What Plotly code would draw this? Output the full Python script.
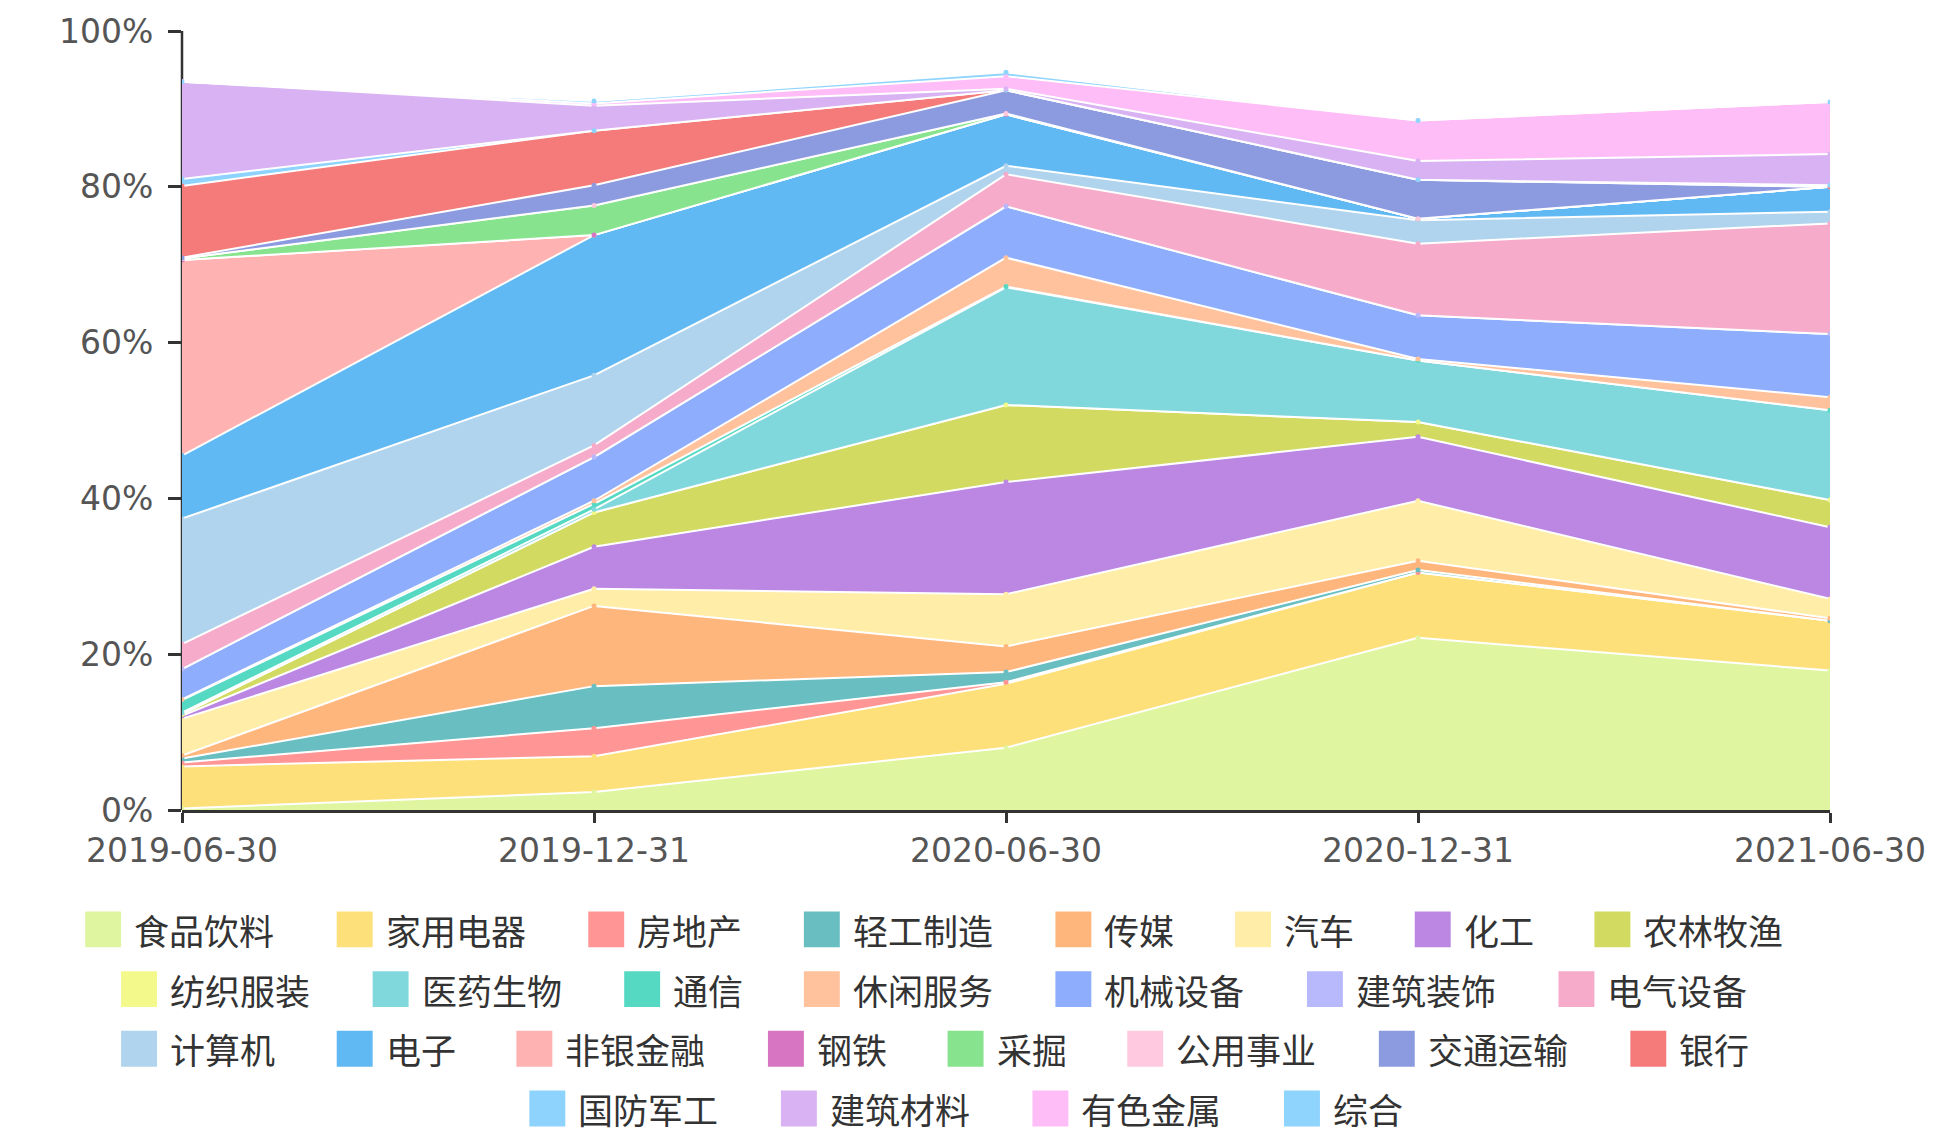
# 업종별 비중 누적 영역 차트

import plotly.graph_objects as go

dates = ['2019-06-30', '2019-12-31', '2020-06-30', '2020-12-31', '2021-06-30']

industries = ['食品饮料', '家用电器', '房地产', '轻工制造', '传媒', '汽车', '化工', '农林牧渔',
              '纺织服装', '医药生物', '通信', '休闲服务', '机械设备', '建筑装饰', '电气设备',
              '计算机', '电子', '非银金融', '钢铁', '采掘', '公用事业', '交通运输', '银行',
              '国防军工', '建筑材料', '有色金属', '综合']

colors = ['#e0f5a0', '#fee07a', '#ff9595', '#68bec1', '#ffb67c', '#ffeda8', '#bb87e3', '#d3da62',
          '#f3f98a', '#80d8dc', '#55d9c3', '#ffc29c', '#8fadfd', '#b8b8fd', '#f6abcb',
          '#b0d4ee', '#61b9f3', '#ffb2b2', '#d775c3', '#88e38e', '#ffc9df', '#8c9ae0', '#f47b79',
          '#8ed3fd', '#d8b2f2', '#ffbdf7', '#8fd4fd']

# 기준일별 업종 비중(%)
w_2019_06 = [0.2, 5.4, 0.5, 0.5, 0.4, 4.7, 0.4, 0.2, 0, 0.2, 1.6, 0.1, 3.9, 0, 3.2,
             16.1, 8.1, 25.1, 0, 0.2, 0, 0.1, 9.2, 0.9, 12.5, 0, 0]
w_2019_12 = [2.3, 4.6, 3.6, 5.4, 10.3, 2.2, 5.4, 4.4, 0, 0.4, 0.7, 0.4, 5.6, 0, 1.5,
             9.0, 18.0, 0, 0, 3.8, 0, 2.6, 7.0, 0, 3.2, 0.3, 0.3]
w_2020_06 = [8.0, 8.2, 0.2, 1.3, 3.3, 6.7, 14.4, 9.9, 0, 15.1, 0.1, 3.7, 6.6, 0, 4.1,
             1.1, 6.6, 0, 0, 0.1, 0, 3.0, 0, 0, 0.2, 1.6, 0.5]
w_2020_12 = [22.1, 8.4, 0, 0.3, 1.2, 7.7, 8.2, 1.9, 0, 7.9, 0, 0.2, 5.6, 0, 9.2,
             3.0, 0.2, 0, 0, 0, 0, 5.0, 0, 0, 2.4, 5.2, 0]
w_2021_06 = [17.9, 6.4, 0, 0, 0.3, 2.5, 9.2, 3.5, 0, 11.5, 0, 1.7, 8.1, 0, 14.2,
             1.5, 3.2, 0, 0, 0, 0, 0, 0, 0.2, 4.0, 6.7, 0]

weights_by_date = [w_2019_06, w_2019_12, w_2020_06, w_2020_12, w_2021_06]

y_ticks = [0, 20, 40, 60, 80, 100]
y_tick_labels = ['0%', '20%', '40%', '60%', '80%', '100%']

# 범례 줄 구성
legend_rows = [industries[0:8], industries[8:15], industries[15:23], industries[23:27]]
legend_row_center = [938, 938, 938, 969]
legend_row_y = [930, 990, 1050, 1110]

W, H = 1938, 1140
L, R, T, B = 182, 105, 27, 330
plot_w = W - L - R
plot_h = H - T - B


def px_to_paper(px, py):
    return (px - L) / plot_w, (T + plot_h - py) / plot_h


fig = go.Figure()
for i, name in enumerate(industries):
    fig.add_trace(go.Scatter(
        x=dates,
        y=[w[i] for w in weights_by_date],
        name=name,
        mode='lines+markers',
        stackgroup='one',
        fillcolor=colors[i],
        line=dict(color='white', width=2),
        marker=dict(color=colors[i], size=5),
        showlegend=False,
        hovertemplate=f'<b>{name}</b><br>%{{x}}: %{{y:.1f}}%<extra></extra>'
        ))

# 범례 (ECharts 스타일의 가운데 정렬 줄)
shapes = []
annotations = []
box, fs, text_gap, item_gap = 36, 35, 50, 58
for row, cx, cy in zip(legend_rows, legend_row_center, legend_row_y):
    widths = [text_gap + len(n) * 36 for n in row]
    total = sum(widths) + item_gap * (len(row) - 1)
    x = cx - total / 2
    for n, wdt in zip(row, widths):
        c = colors[industries.index(n)]
        x0, y0 = px_to_paper(x, cy + box / 2)
        x1, y1 = px_to_paper(x + box, cy - box / 2)
        shapes.append(dict(type='rect', xref='paper', yref='paper',
                           x0=x0, x1=x1, y0=y0, y1=y1,
                           fillcolor=c, line=dict(width=0)))
        tx, ty = px_to_paper(x + text_gap - 3, cy)
        annotations.append(dict(xref='paper', yref='paper', x=tx, y=ty,
                                xanchor='left', yanchor='middle', text=n,
                                showarrow=False,
                                font=dict(size=fs, color='#333333',
                                          family='Noto Sans CJK SC')))
        x += wdt + item_gap

# y축 선은 영역 아래에 깔리도록 도형으로 그림
shapes.append(dict(type='line', xref='paper', yref='paper', x0=0, x1=0, y0=0, y1=1,
                   layer='below', line=dict(color='#333333', width=2.5)))

fig.update_layout(
    width=W,
    height=H,
    margin=dict(l=L, r=R, t=T, b=B),
    plot_bgcolor='white',
    paper_bgcolor='white',
    font=dict(family='DejaVu Sans, Noto Sans CJK SC', size=33, color='#555555'),
    xaxis=dict(
        type='category',
        range=[0, len(dates) - 1],
        showline=True,
        linecolor='#333333',
        linewidth=2.5,
        ticks='outside',
        ticklen=10,
        tickwidth=2.5,
        tickcolor='#333333',
        showgrid=False,
        zeroline=False
        ),
    yaxis=dict(
        range=[0, 100],
        tickmode='array',
        tickvals=y_ticks,
        ticktext=y_tick_labels,
        showline=False,
        ticks='outside',
        ticklen=13,
        tickwidth=2.5,
        tickcolor='#333333',
        showgrid=True,
        gridcolor='#d9d9d9',
        gridwidth=2,
        zeroline=False,
        ticklabelstandoff=8
        ),
    shapes=shapes,
    annotations=annotations,
    showlegend=False
    )

fig.write_html("out.html",
               config={'displayModeBar': False},
               post_script="document.body.style.margin='0';document.body.style.overflow='hidden';")
